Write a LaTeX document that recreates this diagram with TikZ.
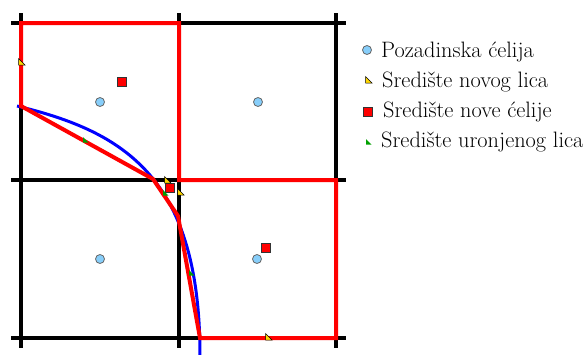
\documentclass[tikz,border=0pt]{standalone}
\usepackage{fontspec}
\definecolor{bgcell}{HTML}{87CEFA}
\definecolor{yel}{HTML}{FFD700}
\definecolor{grn}{HTML}{00A000}
\tikzset{
  gridline/.style={line width=3.2pt, black},
  cellline/.style={line width=4pt, red, line join=miter},
  surf/.style={line width=3pt, blue},
  bgc/.style={circle, draw=black!60, fill=bgcell, line width=0.8pt, minimum size=9pt, inner sep=0pt},
  ncc/.style={rectangle, draw=black!80, fill=red, line width=0.8pt, minimum size=9pt, inner sep=0pt},
  lbl/.style={anchor=base west, font=\rmfamily\fontsize{22.3}{25}\selectfont, inner sep=0pt},
}
\newcommand{\yeltri}[2]{\fill[yel, draw=black, line width=0.5pt] (#1-2.5,#2-3.5) -- (#1-2.5,#2+3) -- (#1+4,#2+3) -- cycle;}
\newcommand{\grntri}[2]{\fill[grn] (#1-2,#2-3) -- (#1-2,#2+2.5) -- (#1+3.5,#2+2.5) -- cycle;}
\begin{document}
\begin{tikzpicture}[x=1pt,y=-1pt]
\useasboundingbox (0,0) rectangle (587,354);
% grid
\foreach \x in {21,179,336} \draw[gridline] (\x,13) -- (\x,348);
\foreach \y in {23,180,338} \draw[gridline] (11,\y) -- (346,\y);
% surface
\draw[surf] (17,106) .. controls (125,132) and (200,178) .. (200,356);
% new cells
\draw[cellline] (21,106) -- (21,23) -- (179,23) -- (179,180) -- (336,180) -- (336,338) -- (200,338) -- (178,216) -- (153,179) -- cycle;
% background centers
\node[bgc] (b1) at (100,102) {};
\node[bgc] (b2) at (258,102) {};
\node[bgc] (b3) at (100,259) {};
\node[bgc] (b4) at (257,259) {};
% new cell centers
\node[ncc] (c1) at (122,82) {};
\node[ncc] (c2) at (170,188) {};
\node[ncc] (c3) at (266,248) {};
% face centers
\yeltri{21}{62}
\yeltri{167}{180}
\yeltri{180}{192}
\yeltri{268}{337}
% submerged face centers
\grntri{85}{140}
\grntri{165}{193}
\grntri{191}{273}
% legend
\node[bgc] (l1) at (367,50) {};
\yeltri{368}{80}
\node[ncc] (l3) at (368,112) {};
\grntri{368}{142}
\node[lbl] (t1) at (381,57) {Pozadinska ćelija};
\node[lbl] (t2) at (382,87) {Središte novog lica};
\node[lbl] (t3) at (383,117) {Središte nove ćelije};
\node[lbl] (t4) at (381,147) {Središte uronjenog lica};
\end{tikzpicture}
\end{document}
